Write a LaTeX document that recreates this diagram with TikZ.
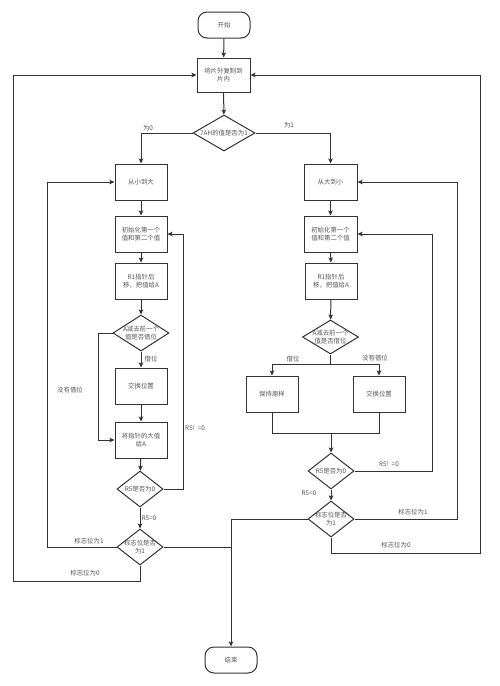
\documentclass[tikz,border=0pt]{standalone}
\usepackage{fontspec}
\newfontfamily\cjk{Noto Sans CJK SC}
\usetikzlibrary{shapes.geometric,arrows.meta}
\definecolor{ln}{HTML}{333333}
\definecolor{tx}{HTML}{555555}
\begin{document}
\begin{tikzpicture}[x=1pt,y=-1pt,
  every node/.style={font=\cjk\fontsize{6.4}{8}\selectfont, text=tx},
  box/.style={draw=ln, line width=1pt, rectangle, minimum width=52pt, minimum height=36pt, inner sep=1pt, align=center},
  term/.style={draw=ln, line width=1pt, rectangle, rounded corners=9pt, minimum width=52pt, minimum height=26pt, inner sep=1pt},
  dec/.style={draw=ln, line width=1pt, diamond, inner sep=0pt},
  lab/.style={inner sep=1pt, align=center},
  ln/.style={draw=ln, line width=1pt},
  arr/.style={ln, -{Stealth[length=5pt,width=4.5pt,inset=1pt]}}]
\fill[white] (0,0) rectangle (500,686);
\useasboundingbox (0,0) rectangle (500,686);
% top
\node[term] (st) at (224,25) {开始};
\node[box, minimum height=34pt, minimum width=53pt] (cp) at (223.5,75) {将片外复制到\\片内};
\node[dec, minimum width=62pt, minimum height=36pt] (d0) at (224,133) {};
\node[lab] at (d0) {7AH的值是否为1};
% left column
\node[box] (sa) at (141,182) {从小到大};
\node[box] (ia) at (141,234) {初始化第一个\\值和第二个值};
\node[box] (ra) at (141,281) {R1指针后\\移，把值给A};
\node[dec, minimum width=56pt, minimum height=36pt] (da) at (141,333) {};
\node[lab] at (da) {A减去前一个\\值是否借位};
\node[box] (xa) at (141,386) {交换位置};
\node[box] (ga) at (141,440) {将指针的大值\\给A};
\node[dec, minimum width=46pt, minimum height=36pt] (r5a) at (140,489) {};
\node[lab] at (r5a) {R5是否为0};
\node[dec, minimum width=46pt, minimum height=36pt] (fa) at (140,547) {};
\node[lab] at (fa) {标志位是否\\为1};
% right column
\node[box, minimum width=53pt] (sd) at (330.5,182) {从大到小};
\node[box, minimum width=53pt] (id) at (330.5,234) {初始化第一个\\值和第二个值};
\node[box] (rd) at (331,281) {R1指针后\\移，把值给A};
\node[dec, minimum width=56pt, minimum height=34pt] (dd) at (330.5,337) {};
\node[lab] at (dd) {A减去前一个\\值是否借位};
\node[box] (kd) at (272,394) {保持原样};
\node[box] (xd) at (379,394) {交换位置};
\node[dec, minimum width=46pt, minimum height=36pt] (r5d) at (331,471) {};
\node[lab] at (r5d) {R5是否为0};
\node[dec, minimum width=46pt, minimum height=36pt] (fd) at (331,519) {};
\node[lab] at (fd) {标志位是否\\为1};
% end
\node[term] (en) at (231,660) {结束};
% connectors top
\draw[arr] (st) -- (cp);
\draw[arr] (cp) -- (d0);
\draw[arr] (d0.west) -| (sa.north);
\draw[arr] (d0.east) -| (sd.north);
\node[lab] at (148,128) {为0};
\node[lab] at (289,125) {为1};
% left connectors
\draw[arr] (sa) -- (ia);
\draw[arr] (ia) -- (ra);
\draw[arr] (ra) -- (da);
\draw[arr] (da) -- (xa);
\node[lab] at (151,359) {借位};
\draw[arr] (da.west) -- (98,333) |- (ga.west);
\node[lab] at (70,390) {没有借位};
\draw[arr] (xa) -- (ga);
\draw[arr] (ga) -- (r5a);
\draw[arr] (r5a.east) -- (183,489) |- (ia.east);
\node[lab, anchor=west] at (184,428) {R5!~~=0};
\draw[arr] (r5a) -- (fa);
\node[lab] at (149,518) {R5=0};
\draw[arr] (fa.west) -- (47,547) |- (sa.west);
\node[lab] at (89,541) {标志位为1};
\draw[arr] (fa.south) -- (140,581) -- (13,581) |- (cp.west);
\node[lab] at (85,573) {标志位为0};
\draw[arr] (fa.east) -| (en.north);
% right connectors
\draw[arr] (sd) -- (id);
\draw[arr] (id) -- (rd);
\draw[arr] (rd) -- (dd);
\draw[arr] (dd.south) -- (330.5,364) -| (kd.north);
\draw[arr] (330.5,364) -| (xd.north);
\node[lab] at (293,359) {借位};
\node[lab] at (375,358) {没有借位};
\draw[ln] (kd.south) -- (272,433) -| (xd.south);
\draw[arr] (331,433) -- (r5d.north);
\draw[arr] (r5d.east) -- (432,471) |- (id.east);
\node[lab] at (389,464) {R5!~~=0};
\draw[arr] (r5d) -- (fd);
\node[lab] at (309,493) {R5=0};
\draw[arr] (fd.east) -- (457,519) |- (sd.east);
\node[lab] at (413,512) {标志位为1};
\draw[arr] (fd.south) -- (331,553) -- (480,553) |- (cp.east);
\node[lab] at (396,545) {标志位为0};
\draw[ln] (fd.west) -- (231,519) -- (231,547);
\end{tikzpicture}
\end{document}
